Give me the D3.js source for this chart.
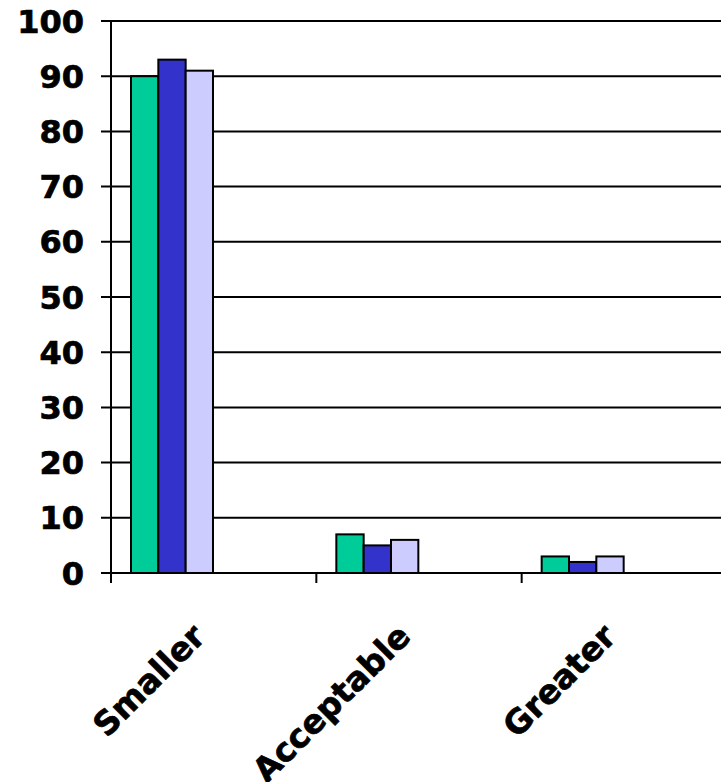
<!DOCTYPE html>
<html>
<head>
<meta charset="utf-8">
<script src="https://cdn.jsdelivr.net/npm/d3@7"></script>
<style>
  body { margin: 0; background: #fff; }
  svg { display: block; }
  text { font-family: "DejaVu Sans", Verdana, sans-serif; font-weight: bold; }
</style>
</head>
<body>
<script>
// chart data
const categories = ['Smaller', 'Acceptable', 'Greater'];
const seriesNames = ['Series 1', 'Series 2', 'Series 3'];
const series1 = [90, 7, 3];
const series2 = [93, 5, 2];
const series3 = [91, 6, 3];
const yTicks = [0, 10, 20, 30, 40, 50, 60, 70, 80, 90, 100];
const colors = ['#00CC99', '#3333CC', '#CCCCFF'];

const width = 721, height = 782;
const plotLeft = 111, plotTop = 21, plotBottom = 573;

const svg = d3.select('body').append('svg')
    .attr('width', width)
    .attr('height', height);

const y = d3.scaleLinear().domain([0, 100]).range([plotBottom, plotTop]);
// plot runs a bit past the right edge of the picture
const x = d3.scaleBand().domain(categories).range([plotLeft, 727]);
const xs = d3.scaleBand().domain(seriesNames).range([20, 102]);

const values = [series1, series2, series3];
const rows = [];
categories.forEach((c, i) => {
    seriesNames.forEach((s, j) => rows.push({cat: c, ser: s, value: values[j][i], color: colors[j]}));
});

// gridlines
svg.append('g')
    .selectAll('line')
    .data(yTicks.filter(t => t > 0))
    .enter().append('line')
    .attr('x1', plotLeft - 10)
    .attr('x2', width)
    .attr('y1', d => y(d))
    .attr('y2', d => y(d))
    .attr('stroke', '#000')
    .attr('stroke-width', 2);

// bars
svg.append('g')
    .selectAll('rect')
    .data(rows)
    .enter().append('rect')
    .attr('x', d => x(d.cat) + xs(d.ser))
    .attr('y', d => y(d.value))
    .attr('width', xs.bandwidth())
    .attr('height', d => y(0) - y(d.value))
    .attr('fill', d => d.color)
    .attr('stroke', '#000')
    .attr('stroke-width', 2);

// y axis line
svg.append('line')
    .attr('x1', plotLeft).attr('x2', plotLeft)
    .attr('y1', y(100)).attr('y2', plotBottom + 10)
    .attr('stroke', '#000').attr('stroke-width', 2);

// x axis line + category ticks
svg.append('line')
    .attr('x1', plotLeft - 10).attr('x2', width)
    .attr('y1', plotBottom).attr('y2', plotBottom)
    .attr('stroke', '#000').attr('stroke-width', 2);

svg.append('g')
    .selectAll('line')
    .data(categories)
    .enter().append('line')
    .attr('x1', d => x(d)).attr('x2', d => x(d))
    .attr('y1', plotBottom).attr('y2', plotBottom + 10)
    .attr('stroke', '#000').attr('stroke-width', 2);

// y tick labels
svg.append('g')
    .selectAll('text')
    .data(yTicks)
    .enter().append('text')
    .attr('x', 84)
    .attr('y', d => y(d))
    .attr('dy', '0.36em')
    .attr('text-anchor', 'end')
    .attr('stroke', '#000')
    .attr('stroke-width', 0.7)
    .style('font-size', '32px')
    .text(d => d);

// rotated category labels
svg.append('g')
    .selectAll('text')
    .data(categories)
    .enter().append('text')
    .attr('transform', d => `translate(${x(d) + x.bandwidth() / 2 - 15},${plotBottom + 57}) rotate(-45)`)
    .attr('text-anchor', 'end')
    .attr('dy', '0.36em')
    .attr('stroke', '#000')
    .attr('stroke-width', 0.7)
    .style('font-size', '33px')
    .text(d => d);
</script>
</body>
</html>
